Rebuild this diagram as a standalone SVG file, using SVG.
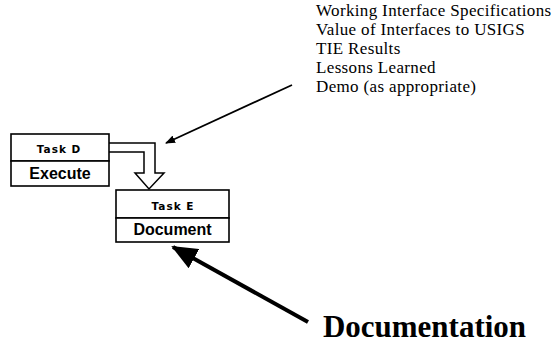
<svg xmlns="http://www.w3.org/2000/svg" width="558" height="345" viewBox="0 0 558 345">
<style>
.box{fill:#fff;stroke:#000;stroke-width:1.6}
.t{font-weight:bold;fill:#000;text-anchor:middle}
.sm{font-family:"DejaVu Sans","Liberation Sans",sans-serif;font-size:10.5px;letter-spacing:1px}
.lg{font-family:"Liberation Sans",Arial,sans-serif;font-size:16px}
.list{font-family:"Liberation Serif","Times New Roman",serif;font-size:17px;letter-spacing:0.35px;fill:#000}
</style>
<defs>
<marker id="ah" markerWidth="10" markerHeight="8" refX="9" refY="4" orient="auto" markerUnits="userSpaceOnUse" viewBox="0 0 10 8">
<path d="M0,0 L10,4 L0,8 Z" fill="#000"/>
</marker>
<marker id="ahb" markerWidth="26" markerHeight="22" refX="24" refY="11" orient="auto" markerUnits="userSpaceOnUse" viewBox="0 0 26 22">
<path d="M0,0 L26,11 L0,22 Z" fill="#000"/>
</marker>
</defs>
<rect width="558" height="345" fill="#fff"/>
<g id="connectors">
<path d="M109,143 H155 V173 H164 L149,189 L135,173 H144 V152 H109" fill="#fff" stroke="#000" stroke-width="1.5" stroke-linejoin="miter"/>
<line x1="292" y1="85" x2="166" y2="143" stroke="#000" stroke-width="1.8" marker-end="url(#ah)"/>
<line x1="308" y1="322" x2="173" y2="247" stroke="#000" stroke-width="4" marker-end="url(#ahb)"/>
</g>
<g id="taskD">
<rect class="box" x="11" y="134" width="98" height="27"/>
<rect class="box" x="11" y="161" width="98" height="25"/>
<text class="t sm" x="59" y="153">Task D</text>
<text class="t lg" x="60" y="179">Execute</text>
</g>
<g id="taskE">
<rect class="box" x="116" y="190" width="113" height="28"/>
<rect class="box" x="116" y="218" width="113" height="24"/>
<text class="t sm" x="173" y="210">Task E</text>
<text class="t lg" x="172.5" y="235">Document</text>
</g>
<g id="outputs">
<text class="list" x="316" y="16">Working Interface Specifications</text>
<text class="list" x="316" y="35">Value of Interfaces to USIGS</text>
<text class="list" x="316" y="54">TIE Results</text>
<text class="list" x="316" y="73">Lessons Learned</text>
<text class="list" x="316" y="92">Demo (as appropriate)</text>
</g>
<g id="documentation">
<text x="323" y="337" font-family="'Liberation Serif','Times New Roman',serif" font-weight="bold" font-size="32" textLength="203" lengthAdjust="spacingAndGlyphs" fill="#000">Documentation</text>
</g>
</svg>
